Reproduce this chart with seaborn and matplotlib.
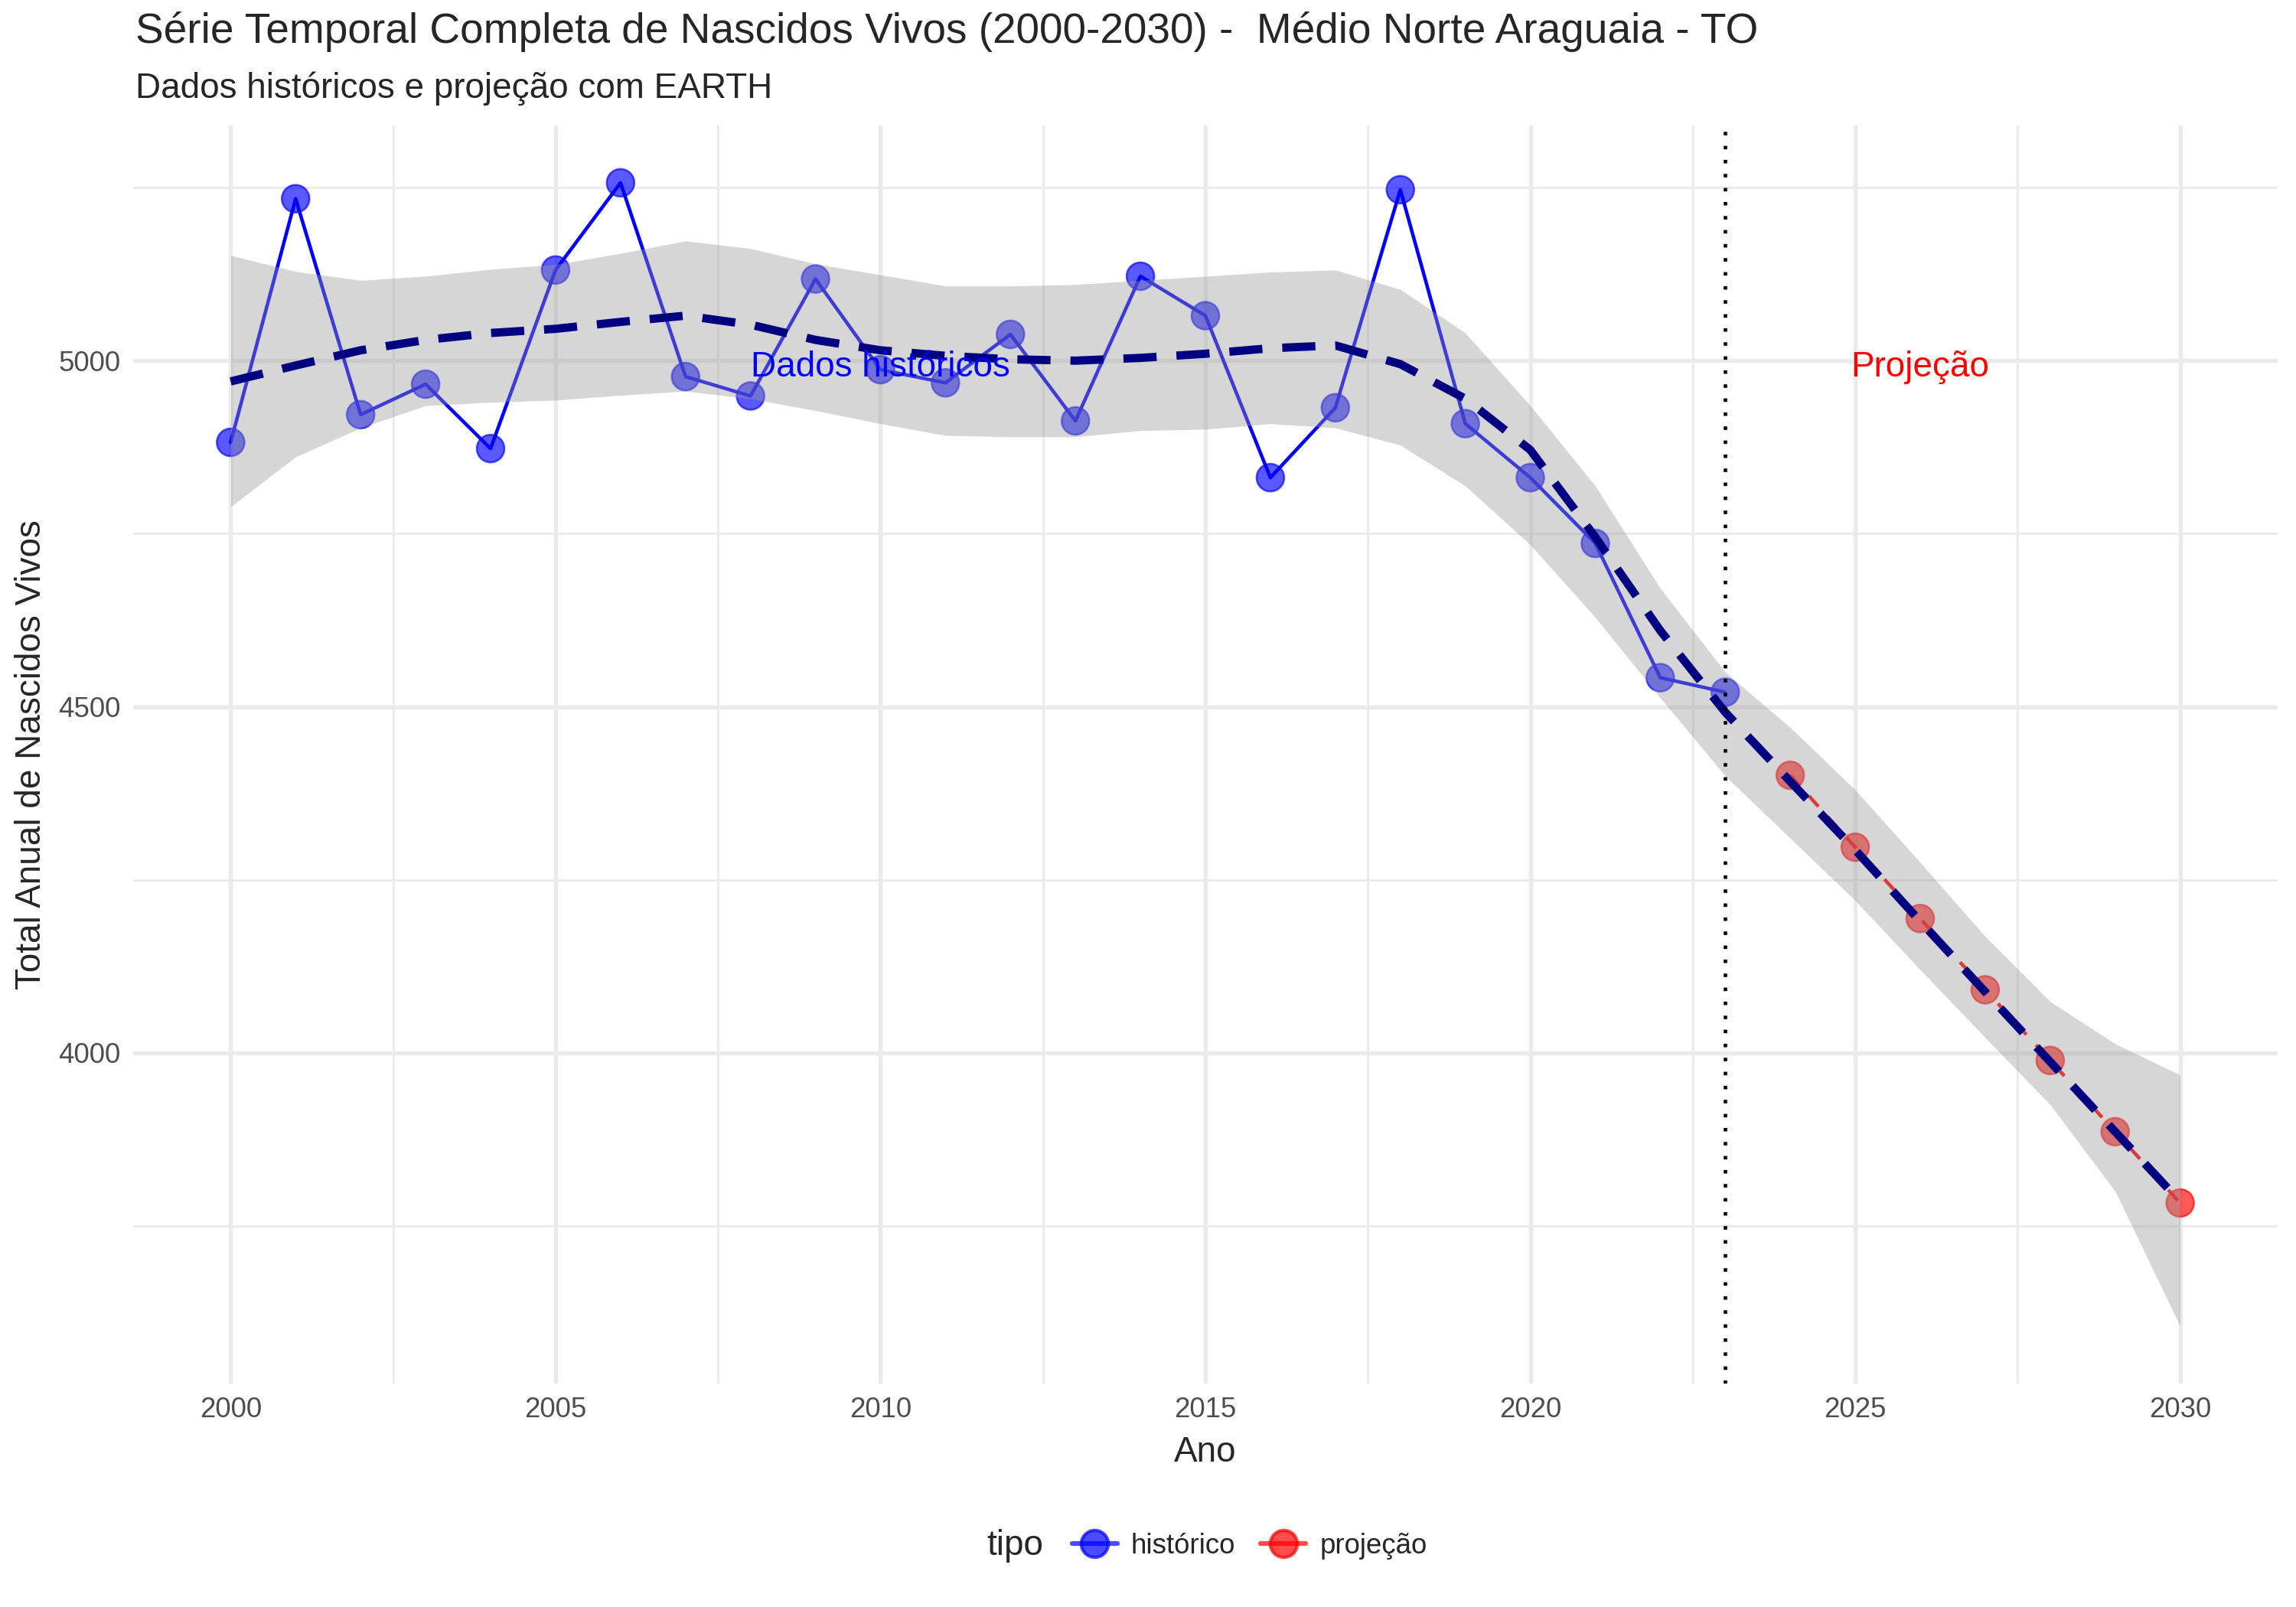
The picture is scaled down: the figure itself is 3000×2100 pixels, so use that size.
# Serie temporal de nascidos vivos com projecao (EARTH) e suavizacao loess

import pandas as pd
import numpy as np
import seaborn as sns
import matplotlib.pyplot as plt
from matplotlib.lines import Line2D

sns.set_theme(style="white")
plt.rcParams['font.family'] = ['Liberation Sans', 'DejaVu Sans']

# dados
anos_hist = list(range(2000, 2024))
total_hist = [4882, 5234, 4922, 4966, 4873, 5131, 5257, 4977, 4949, 5118,
              4987, 4968, 5038, 4913, 5122, 5065, 4831, 4932, 5247, 4909,
              4831, 4736, 4542, 4521]
anos_proj = list(range(2024, 2031))
total_proj = [4401, 4297, 4194, 4091, 3989, 3886, 3783]

# curva suavizada e intervalo de confianca
anos_suav = [2000, 2001, 2002, 2003, 2004, 2005, 2006, 2007, 2008, 2009,
             2010, 2011, 2012, 2013, 2014, 2015, 2016, 2017, 2018, 2019,
             2020, 2021, 2022, 2023, 2024, 2025, 2026, 2027, 2028, 2029, 2030]
media_suav = [4970, 4993, 5015, 5030, 5040, 5046, 5056, 5065, 5052, 5030,
              5015, 5007, 5002, 5000, 5004, 5010, 5018, 5022, 4995, 4945,
              4871, 4745, 4610, 4492, 4392, 4293, 4190, 4088, 3987, 3886, 3785]
sup_suav = [5152, 5129, 5116, 5122, 5132, 5139, 5155, 5173, 5162, 5140,
            5124, 5108, 5108, 5110, 5116, 5122, 5128, 5131, 5103, 5040,
            4935, 4819, 4671, 4550, 4470, 4380, 4275, 4168, 4074, 4013, 3968]
inf_suav = [4789, 4861, 4903, 4935, 4940, 4943, 4950, 4956, 4945, 4928,
            4909, 4892, 4890, 4890, 4899, 4901, 4909, 4903, 4878, 4819,
            4734, 4629, 4513, 4400, 4310, 4220, 4120, 4022, 3925, 3800, 3605]

df = pd.DataFrame({
    'Ano': anos_hist + anos_proj,
    'total': total_hist + total_proj,
    'tipo': ['histórico'] * len(anos_hist) + ['projeção'] * len(anos_proj),
})
suav = pd.DataFrame({'Ano': anos_suav, 'media': media_suav,
                     'sup': sup_suav, 'inf': inf_suav})
cores = {'histórico': '#0000FF', 'projeção': '#FF0000'}

fig = plt.figure(figsize=(10, 7), dpi=300)
ax = fig.add_axes([0.058, 0.139, 0.934, 0.783])

sns.lineplot(data=df, x='Ano', y='total', hue='tipo', style='tipo',
             palette=cores, dashes={'histórico': '', 'projeção': (4, 4)},
             linewidth=1.1, ax=ax, legend=False, zorder=2)
sns.scatterplot(data=df, x='Ano', y='total', hue='tipo', palette=cores,
                s=75, alpha=0.65, edgecolor=None, linewidth=0.6,
                ax=ax, legend=False, zorder=3)
ax.fill_between(suav['Ano'], suav['inf'], suav['sup'], color='#999999',
                alpha=0.4, linewidth=0, zorder=4)
sns.lineplot(data=suav, x='Ano', y='media', color='#000080', linewidth=2.6,
             dashes=False, ax=ax, zorder=5).lines[-1].set_dashes((4, 2.4))

ax.axvline(2023, color='black', linestyle=(0, (1, 3)), linewidth=1.1, zorder=6)
ax.text(2010, 4990, 'Dados históricos', color='blue', fontsize=11,
        ha='center', va='center', zorder=7)
ax.text(2026, 4990, 'Projeção', color='red', fontsize=11,
        ha='center', va='center', zorder=7)

ax.set_xlim(1998.5, 2031.5)
ax.set_ylim(3522, 5340)
ax.set_xticks([2000, 2005, 2010, 2015, 2020, 2025, 2030])
ax.set_xticks(np.arange(2002.5, 2030, 5), minor=True)
ax.set_yticks([4000, 4500, 5000])
ax.set_yticks([3750, 4250, 4750, 5250], minor=True)
ax.grid(which='major', color='#EBEBEB', linewidth=1.3)
ax.grid(which='minor', color='#EBEBEB', linewidth=0.7)
ax.set_axisbelow(True)
for s in ax.spines.values():
    s.set_visible(False)
ax.tick_params(axis='both', which='both', length=0, labelsize=8.8,
               labelcolor='#4D4D4D', pad=4)
ax.set_xlabel('Ano', fontsize=11, labelpad=4)
ax.set_ylabel('Total Anual de Nascidos Vivos', fontsize=11, labelpad=3)

fig.text(0.059, 0.98, 'Série Temporal Completa de Nascidos Vivos (2000-2030) -  Médio Norte Araguaia - TO',
         fontsize=13.2, ha='left', va='center')
fig.text(0.059, 0.945, 'Dados históricos e projeção com EARTH',
         fontsize=11, ha='left', va='center')

# legenda inferior
handles = [Line2D([], [], color=cores[k], marker='o', markersize=8.5,
                  markerfacecolor=cores[k], markeredgecolor=cores[k],
                  alpha=0.7, linewidth=1.5) for k in cores]
fig.text(0.442, 0.038, 'tipo', fontsize=11, ha='center', va='center')
fig.legend(handles, list(cores), loc='center left', bbox_to_anchor=(0.456, 0.038),
           ncol=2, frameon=False, fontsize=8.8, handlelength=1.6,
           columnspacing=0.9, handletextpad=0.5)

fig.savefig('out.png', dpi=300, facecolor='white')
